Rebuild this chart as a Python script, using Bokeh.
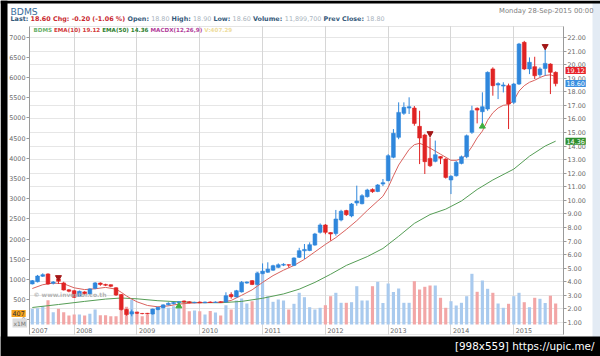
from bokeh.plotting import figure
from bokeh.models import (Range1d, LinearAxis, FixedTicker, NumeralTickFormatter, Label,
                          BoxAnnotation, Grid)
from bokeh.core.properties import value
from bokeh.embed import file_html
from bokeh.resources import INLINE

# ---------------- data (monthly, May 2007 .. Sep 2015) ----------------
opens = [3.84, 4.00, 4.40, 4.57, 3.88, 4.20, 3.91, 3.40, 3.34, 2.92,
         3.25, 3.10, 3.51, 3.90, 3.80, 3.78, 3.55, 3.05, 1.96, 1.62,
         1.74, 1.66, 1.67, 1.62, 1.95, 2.08, 2.30, 2.38, 2.45, 2.58,
         2.52, 2.45, 2.50, 2.45, 2.50, 2.47, 2.52, 2.50, 3.05, 2.88,
         3.25, 3.90, 4.08, 3.80, 4.60, 4.70, 4.85, 5.06, 5.22, 5.25,
         5.20, 5.80, 6.28, 6.30, 6.70, 7.64, 8.18, 7.62, 7.55, 8.55,
         9.24, 8.85, 9.80, 9.75, 10.27, 10.80, 10.65, 11.20, 11.45, 13.17,
         14.64, 16.41, 16.80, 16.80, 15.45, 14.81, 13.09, 12.87, 13.22, 13.04,
         11.50, 11.81, 12.72, 13.21, 15.01, 16.78, 16.53, 16.73, 19.68, 18.50,
         18.42, 18.45, 17.22, 18.57, 21.64, 19.68, 19.85, 19.26, 19.72, 20.04,
         19.43]
highs = [4.12, 4.50, 4.62, 4.62, 4.05, 4.25, 4.00, 3.45, 3.40, 3.35,
         3.30, 3.52, 3.98, 3.95, 3.85, 3.80, 3.60, 3.10, 2.00, 1.95,
         1.78, 1.70, 1.70, 2.02, 2.15, 2.33, 2.48, 2.52, 2.58, 2.62,
         2.56, 2.52, 2.55, 2.54, 2.55, 2.55, 2.56, 3.22, 3.22, 3.40,
         4.05, 4.02, 4.12, 4.70, 5.35, 5.43, 5.25, 5.35, 5.36, 5.27,
         5.80, 6.50, 6.78, 6.90, 7.60, 8.30, 8.25, 7.65, 9.29, 9.30,
         9.30, 9.80, 11.08, 10.45, 10.85, 10.88, 11.20, 11.57, 13.40, 15.25,
         17.22, 17.22, 17.59, 16.95, 16.60, 14.90, 14.64, 14.40, 13.25, 13.10,
         11.85, 12.90, 13.30, 14.85, 16.97, 16.85, 17.96, 19.50, 19.80, 18.70,
         18.70, 18.60, 18.65, 21.60, 21.75, 20.53, 20.58, 19.80, 21.15, 20.10,
         19.50]
lows = [3.80, 3.95, 4.35, 3.78, 3.80, 3.84, 3.35, 3.22, 2.80, 2.88,
        3.05, 3.05, 3.45, 3.70, 3.68, 3.60, 2.95, 1.88, 1.50, 1.45,
        1.62, 1.60, 1.60, 1.58, 1.90, 2.05, 2.25, 2.33, 2.40, 2.45,
        2.40, 2.42, 2.42, 2.42, 2.43, 2.44, 2.44, 2.45, 2.75, 2.85,
        3.20, 3.85, 3.75, 3.75, 4.55, 4.65, 4.80, 5.00, 5.15, 5.05,
        5.15, 5.75, 5.67, 6.25, 6.65, 7.55, 7.50, 7.03, 7.40, 8.45,
        8.85, 8.75, 9.60, 9.70, 10.20, 10.55, 10.60, 11.05, 11.40, 13.10,
        14.50, 16.30, 16.36, 15.50, 12.67, 11.94, 12.45, 12.80, 12.67, 11.60,
        10.46, 11.75, 12.65, 13.10, 14.90, 15.67, 15.62, 16.60, 17.71, 17.46,
        17.95, 15.25, 17.10, 18.50, 19.60, 19.30, 18.94, 19.10, 19.18, 17.83,
        18.40]
closes = [4.08, 4.42, 4.52, 3.84, 3.98, 4.03, 3.39, 3.30, 2.85, 3.29,
          3.12, 3.47, 3.91, 3.80, 3.74, 3.66, 3.02, 1.95, 1.58, 1.79,
          1.68, 1.65, 1.64, 1.99, 2.11, 2.29, 2.41, 2.47, 2.52, 2.50,
          2.45, 2.48, 2.45, 2.50, 2.47, 2.50, 2.48, 2.97, 2.90, 3.34,
          3.96, 3.98, 3.80, 4.62, 4.78, 4.93, 5.18, 5.25, 5.28, 5.22,
          5.75, 6.29, 6.38, 6.73, 7.52, 8.18, 7.64, 7.52, 8.62, 9.19,
          8.94, 9.73, 9.95, 10.34, 10.76, 10.64, 11.13, 11.30, 13.29, 14.94,
          16.48, 16.85, 16.90, 15.67, 14.59, 12.85, 12.55, 13.36, 13.10, 11.69,
          11.77, 12.80, 13.21, 14.76, 16.60, 16.65, 16.90, 19.43, 18.45, 18.60,
          18.50, 17.10, 18.57, 21.52, 19.68, 20.17, 19.18, 19.68, 20.09, 19.43,
          18.60]
volumes = [581, 603, 677, 899, 455, 581, 455, 333, 370, 370,
           333, 396, 555, 344, 344, 307, 307, 581, 655, 925,
           492, 307, 370, 555, 581, 740, 618, 677, 740, 803,
           492, 518, 492, 370, 500, 444, 333, 714, 555, 888,
           962, 777, 862, 1961, 1924, 1047, 840, 925, 888, 555,
           766, 1173, 1010, 640, 555, 618, 714, 1047, 1173, 803,
           803, 825, 1417, 888, 888, 1417, 1580, 796, 1517, 1203,
           1332, 803, 803, 1602, 1295, 1395, 1443, 1443, 988, 618,
           862, 703, 803, 1047, 1876, 1210, 1628, 1321, 1173, 777,
           618, 766, 1047, 1173, 825, 640, 988, 951, 796, 1066,
           777]

ema10_idx = [0, 2, 4, 6, 8, 10, 12, 14, 16, 17, 18, 19, 20, 22, 24, 26, 28, 30, 32, 34,
             36, 38, 40, 42, 44, 46, 48, 50, 52, 54, 56, 58, 60, 62, 64, 66, 67, 68, 69, 70,
             72, 73, 74, 75, 76, 78, 80, 81, 82, 83, 84, 85, 86, 87, 88, 89, 90, 91, 92, 93,
             94, 95, 96, 97, 98, 99, 100]
ema10_val = [3.50, 3.78, 3.90, 3.85, 3.55, 3.42, 3.48, 3.58, 3.45, 3.22, 2.95, 2.72, 2.52, 2.25, 2.15, 2.22, 2.35, 2.42, 2.45, 2.47,
             2.48, 2.62, 3.00, 3.40, 3.95, 4.45, 4.85, 5.20, 5.65, 6.20, 6.75, 7.25, 7.85, 8.50, 9.25, 9.95, 10.30, 10.95, 11.80, 12.60,
             13.75, 14.10, 14.20, 14.05, 13.85, 13.40, 12.95, 12.95, 13.05, 13.40, 13.95, 14.60, 15.10, 15.90, 16.45, 16.80, 17.00, 17.05, 17.35, 18.05,
             18.45, 18.70, 18.85, 19.05, 19.20, 19.25, 19.12]
ema50_idx = [0, 5, 10, 14, 17, 20, 24, 28, 32, 36, 40, 44, 48, 51, 54, 57, 60, 64, 67, 70,
             73, 76, 79, 82, 85, 88, 92, 95, 98, 100]
ema50_val = [2.10, 2.32, 2.55, 2.72, 2.80, 2.74, 2.60, 2.52, 2.46, 2.45, 2.55, 2.78, 3.10, 3.45, 3.95, 4.55, 5.20, 5.85, 6.45, 7.35,
             8.30, 8.95, 9.35, 9.95, 10.80, 11.50, 12.30, 13.25, 14.00, 14.36]

sell_idx = [5, 76, 98]
sell_val = [4.32, 14.93, 21.35]
buy_idx = [28, 86]
buy_val = [2.20, 15.45]

year_labels = ["2007", "2008", "2009", "2010", "2011", "2012", "2013", "2014", "2015"]
year_idx = [8, 20, 32, 44, 56, 68, 80, 92]          # January candles
price_ticks = list(range(1, 23))
left_ticks = list(range(0, 7001, 500))

last_vals = {"ema10": 19.12, "last": 18.60, "ema50": 14.36}
vol_tag = 407

# ---------------- geometry ----------------
W, H = 600, 356
PX_L, PX_R, PX_T, PX_B = 29, 563, 26, 334          # chart box on the canvas
X0, X1 = -0.535, 101.5                              # candle-index range of the chart box
P0, P1 = 0.11, 22.81                                # price range (right axis)
L0, L1 = -361, 7265                                 # left axis range
V0, V1 = -370, 11026                                # volume range


def full_x(a, b):
    u = (b - a) / (PX_R - PX_L)
    return a - PX_L * u, b + (W - PX_R) * u


def full_y(a, b):
    u = (b - a) / (PX_B - PX_T)
    return a - (H - PX_B) * u, b + PX_T * u


FONT = "DejaVu Sans"
UP, DOWN = "#2f87dc", "#e02424"
VUP, VDOWN = "#a9caee", "#f2a6a6"

n = len(closes)
idx = list(range(n))
ccol = [UP if c >= o else DOWN for o, c in zip(opens, closes)]
vcol = [VUP if c >= o else VDOWN for o, c in zip(opens, closes)]
btop = [max(o, c) for o, c in zip(opens, closes)]
bbot = [min(o, c) for o, c in zip(opens, closes)]

xs, xe = full_x(X0, X1)
ys, ye = full_y(P0, P1)
p = figure(width=W, height=H, output_backend="svg", toolbar_location=None,
           x_range=Range1d(xs, xe), y_range=Range1d(ys, ye),
           x_axis_location=None, y_axis_location=None,
           min_border=0, min_border_left=0, min_border_right=0,
           min_border_top=0, min_border_bottom=0,
           background_fill_color="white", border_fill_color="white",
           outline_line_color=None)
p.grid.visible = False
p.extra_y_ranges = {"left": Range1d(*full_y(L0, L1)), "vol": Range1d(*full_y(V0, V1))}


def style_axis(ax):
    ax.axis_line_color = "#9a9a9a"
    ax.major_tick_line_color = "#9a9a9a"
    ax.major_tick_in = 0
    ax.major_tick_out = 3
    ax.minor_tick_line_color = None
    ax.major_label_text_font = FONT
    ax.major_label_text_font_size = "6.4px"
    ax.major_label_text_color = "#6a6a6a"
    ax.major_label_standoff = 1


# grids (underlay), then masks over the margins, then glyphs, then axes on top
p.add_layout(Grid(dimension=1, ticker=FixedTicker(ticks=price_ticks), grid_line_color="#e6e6e6"))
p.add_layout(Grid(dimension=0, ticker=FixedTicker(ticks=year_idx), grid_line_color="#d6d6d6"))


def box(l, r, t, b, color):
    p.add_layout(BoxAnnotation(left=l, right=r, top=t, bottom=b,
                               left_units="canvas", right_units="canvas",
                               top_units="canvas", bottom_units="canvas",
                               fill_color=color, fill_alpha=1, line_color=None,
                               level="underlay"))


box(0, PX_L, PX_T, PX_B, "white")
box(PX_R, W, PX_T, PX_B, "white")
box(0, W, 0, PX_T, "white")
box(0, W, PX_B, H, "white")
box(592, 600, 0, 337, "#e3ebf4")
box(0, 600, 0, 3, "black")
box(0, 7, 0, 356, "black")
box(0, 600, 336, 356, "black")

ax_r = LinearAxis(ticker=FixedTicker(ticks=price_ticks),
                  formatter=NumeralTickFormatter(format="0.00"),
                  fixed_location=X1, bounds=(P0, P1))
style_axis(ax_r)
p.add_layout(ax_r, "right")
ax_l = LinearAxis(y_range_name="left", ticker=FixedTicker(ticks=left_ticks),
                  fixed_location=X0, bounds=(L0, L1))
style_axis(ax_l)
p.add_layout(ax_l, "left")

# chart outline
p.add_layout(BoxAnnotation(left=X0, right=X1, top=P1, bottom=P0, fill_alpha=0,
                           line_color="#a8a8a8", line_width=1, level="underlay"))

# volume
p.vbar(x=idx, top=volumes, bottom=0, width=0.6, fill_color=vcol, line_color=None,
       y_range_name="vol")
# moving averages
p.line(ema50_idx, ema50_val, line_color="#559d55", line_width=1)
p.line(ema10_idx, ema10_val, line_color="#d9625e", line_width=1)
# candles
p.segment(x0=idx, y0=lows, x1=idx, y1=highs, line_color=ccol, line_width=1)
p.vbar(x=idx, top=btop, bottom=bbot, width=0.72, fill_color=ccol, line_color=ccol, line_width=0.6)
# signals
p.scatter(sell_idx, sell_val, marker="inverted_triangle", size=6, fill_color="#a31616", line_color="#a31616")
p.scatter(buy_idx, buy_val, marker="triangle", size=6, fill_color="#3fae3f", line_color="#3fae3f")

# year labels inside the bottom of the chart box
yx = [X0] + year_idx
p.text(x=yx, y=[P0] * len(yx), text=year_labels, x_offset=2, y_offset=-1.5,
       text_font=value(FONT), text_font_size="6.4px", text_color="#6a6a6a",
       text_baseline="bottom", text_align="left")

# ---------------- texts ----------------
NW = {' ': .318, '%': .950, '(': .390, ')': .390, ',': .318, '-': .361, '.': .318, '/': .337,
      ':': .337, '[': .390, ']': .390}
for d in "0123456789":
    NW[d] = .636
BW = {' ': .348, '%': 1.002, '(': .457, ')': .457, ',': .380, '-': .415, '.': .380, ':': .400,
      'A': .774, 'B': .762, 'C': .734, 'D': .830, 'E': .683, 'H': .837, 'L': .637, 'M': .995,
      'O': .850, 'P': .733, 'S': .720, 'V': .774, 'X': .774, 'a': .675, 'c': .593, 'e': .678,
      'g': .716, 'h': .712, 'i': .343, 'l': .343, 'm': 1.042, 'n': .712, 'o': .687, 'p': .716,
      'r': .493, 's': .595, 't': .478, 'u': .712, 'v': .652, 'w': .924, 'y': .652}
for d in "0123456789":
    BW[d] = .696


def tw(s, bold, size):
    t = BW if bold else NW
    return sum(t.get(ch, 0.62) for ch in s) * size


def lab(x, y, text, color, size, bold=False, align="left", xu="canvas", yu="canvas", **kw):
    l = Label(x=x, y=y, x_units=xu, y_units=yu, text=text, text_color=color,
              text_font_size=f"{size}px", text_font=FONT,
              text_font_style="bold" if bold else "normal",
              text_align=align, text_baseline="middle", **kw)
    p.add_layout(l)
    return l


def run(x, y, pieces, size):
    for txt, col, bold in pieces:
        lab(x, y, txt, col, size, bold)
        x += tw(txt, bold, size)


DARK, RED, GRAY = "#35597a", "#c8282e", "#a9b3bd"
lab(10, 10.5, "BDMS", "#3b6e9c", 9.2)
run(10, 18, [("Last: ", DARK, True), ("18.60 ", RED, True), ("Chg: ", RED, True),
             ("-0.20 (-1.06 %) ", RED, True), ("Open: ", DARK, True), ("18.80 ", GRAY, False),
             ("High: ", DARK, True), ("18.90 ", GRAY, False), ("Low: ", DARK, True),
             ("18.60 ", GRAY, False), ("Volume: ", DARK, True), ("11,899,700 ", GRAY, False),
             ("Prev Close: ", DARK, True), ("18.80", GRAY, False)], 6.4)
lab(593, 10.5, "Monday 28-Sep-2015 00:00", "#808080", 6.8, align="right")
run(33, 29.5, [("BDMS ", "#6ab06a", True), ("EMA(10) 19.12 ", "#d23a3a", True),
               ("EMA(50) 14.36 ", "#2f7f2f", True), ("MACDX(12,26,9) ", "#b23c9a", True),
               ("V:407.29", "#eedc9c", True)], 5.6)
lab(33, 293.5, "\u00a9 www.investor.co.th", "#b4b4b4", 6.0, bold=True)

# value tags on the right axis
lab(565, last_vals["ema10"], f'{last_vals["ema10"]:.2f}', "white", 6.4, xu="canvas", yu="data",
    y_offset=6, background_fill_color="#e8232a", padding=1)
lab(565, last_vals["last"], f'{last_vals["last"]:.2f}', "white", 6.4, xu="canvas", yu="data",
    background_fill_color="#3a8fe0", padding=1)
lab(565, last_vals["ema50"], f'{last_vals["ema50"]:.2f}', "white", 6.4, xu="canvas", yu="data",
    background_fill_color="#2f8f2f", padding=1)
# left tags
lab(11, vol_tag, str(vol_tag), "#333333", 6.4, xu="canvas", yu="data", y_range_name="vol",
    background_fill_color="#f5a21d", padding=1)
lab(12, 322.5, "x1M", "#777777", 6.0, background_fill_color="#dcdcdc", padding=1)

# watermark under the picture
lab(594, 345, "[998x559] https://upic.me/", "white", 10.4, align="right")

open("out.html", "w").write(file_html(p, INLINE))
